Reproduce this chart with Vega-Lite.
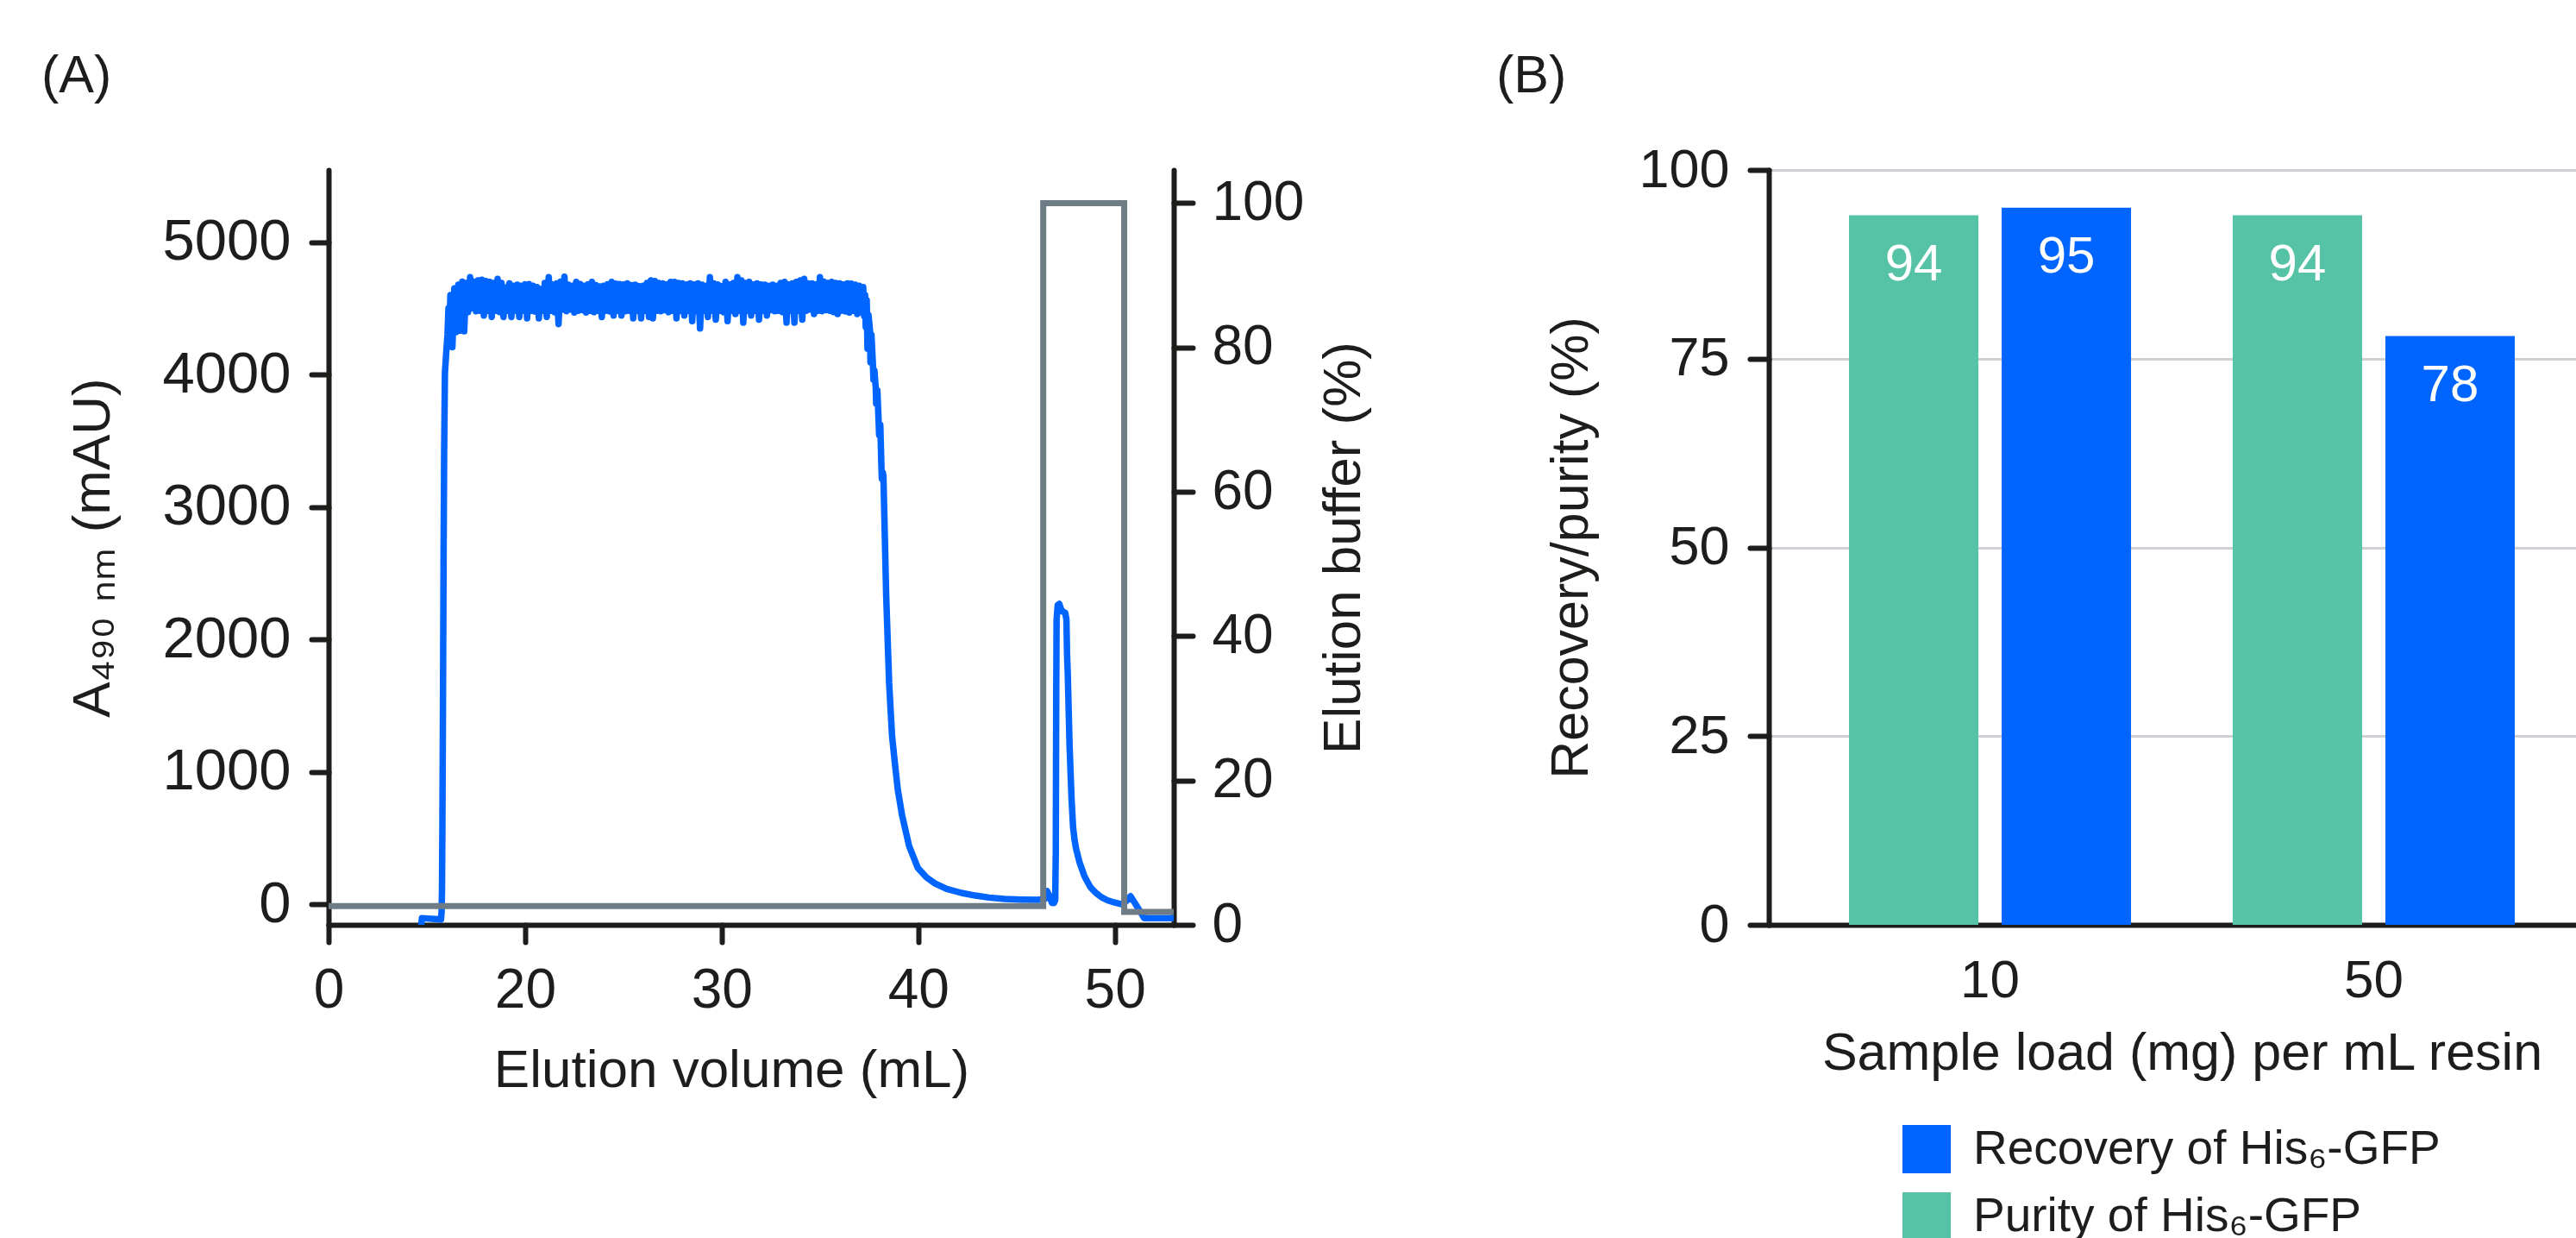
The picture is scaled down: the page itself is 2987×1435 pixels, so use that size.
{
  "$schema": "https://vega.github.io/schema/vega-lite/v6.json",
  "padding": {"left": 48, "top": 58, "right": 0, "bottom": 0},
  "background": "white",
  "config": {
    "font": "Liberation Sans",
    "view": {"stroke": null},
    "axis": {
      "labelFont": "Liberation Sans", "titleFont": "Liberation Sans",
      "labelColor": "#1d1d1b", "titleColor": "#1d1d1b",
      "domainColor": "#1d1d1b", "tickColor": "#1d1d1b",
      "domainWidth": 6, "tickWidth": 6, "domainCap": "round", "tickCap": "round",
      "titleFontWeight": "normal", "grid": false, "labelOverlap": false, "format": "d"
    },
    "title": {"font": "Liberation Sans", "fontWeight": "normal", "color": "#1d1d1b", "fontSize": 61}
  },
  "datasets": {
    "uv": [
      {"v":14.72,"a":-150},{"v":14.75,"a":-105},{"v":15.0,"a":-108},{"v":15.4,"a":-112},{"v":15.72,"a":-115},
      {"v":15.75,"a":-60},{"v":15.77,"a":100},{"v":15.79,"a":560},{"v":15.82,"a":1500},{"v":15.85,"a":2600},
      {"v":15.88,"a":3400},{"v":15.92,"a":4013},{"v":15.98,"a":4150},{"v":16.05,"a":4300},{"v":16.1,"a":4500},
      {"v":16.15,"a":4380},{"v":16.2,"a":4600},{"v":16.3,"a":4206},{"v":16.4,"a":4650},{"v":16.5,"a":4320},
      {"v":16.6,"a":4678},{"v":16.7,"a":4330},{"v":16.8,"a":4700},{"v":16.9,"a":4326},{"v":17.0,"a":4690},
      {"v":17.1,"a":4470},{"v":17.2,"a":4734},{"v":17.3,"a":4500},{"v":17.4,"a":4700},{"v":17.5,"a":4478},
      {"v":17.6,"a":4710},{"v":17.7,"a":4480},{"v":17.8,"a":4715},{"v":17.9,"a":4445},{"v":18.0,"a":4705},
      {"v":18.1,"a":4480},{"v":18.2,"a":4699},{"v":18.3,"a":4434},{"v":18.4,"a":4690},{"v":18.5,"a":4480},
      {"v":18.6,"a":4721},{"v":18.7,"a":4470},{"v":18.8,"a":4690},{"v":18.9,"a":4434},{"v":19.0,"a":4656},
      {"v":19.1,"a":4480},{"v":19.2,"a":4688},{"v":19.3,"a":4434},{"v":19.4,"a":4670},{"v":19.5,"a":4480},
      {"v":19.6,"a":4678},{"v":19.7,"a":4434},{"v":19.8,"a":4670},{"v":19.9,"a":4480},{"v":20.0,"a":4680},
      {"v":20.1,"a":4423},{"v":20.2,"a":4683},{"v":20.3,"a":4480},{"v":20.4,"a":4670},{"v":20.5,"a":4475},
      {"v":20.6,"a":4660},{"v":20.7,"a":4423},{"v":20.8,"a":4645},{"v":20.9,"a":4480},{"v":21.0,"a":4690},
      {"v":21.1,"a":4434},{"v":21.2,"a":4734},{"v":21.3,"a":4480},{"v":21.4,"a":4680},{"v":21.5,"a":4470},
      {"v":21.6,"a":4688},{"v":21.7,"a":4380},{"v":21.8,"a":4700},{"v":21.9,"a":4490},{"v":22.0,"a":4738},
      {"v":22.1,"a":4478},{"v":22.2,"a":4678},{"v":22.3,"a":4490},{"v":22.4,"a":4670},{"v":22.5,"a":4467},
      {"v":22.6,"a":4699},{"v":22.7,"a":4480},{"v":22.8,"a":4683},{"v":22.9,"a":4485},{"v":23.0,"a":4670},
      {"v":23.1,"a":4467},{"v":23.2,"a":4680},{"v":23.3,"a":4480},{"v":23.4,"a":4699},{"v":23.5,"a":4470},
      {"v":23.6,"a":4675},{"v":23.7,"a":4480},{"v":23.8,"a":4665},{"v":23.9,"a":4434},{"v":24.0,"a":4670},
      {"v":24.1,"a":4480},{"v":24.2,"a":4680},{"v":24.3,"a":4475},{"v":24.4,"a":4699},{"v":24.5,"a":4445},
      {"v":24.6,"a":4685},{"v":24.7,"a":4480},{"v":24.8,"a":4683},{"v":24.9,"a":4445},{"v":25.0,"a":4680},
      {"v":25.1,"a":4478},{"v":25.2,"a":4688},{"v":25.3,"a":4480},{"v":25.4,"a":4675},{"v":25.5,"a":4423},
      {"v":25.6,"a":4678},{"v":25.7,"a":4480},{"v":25.8,"a":4667},{"v":25.9,"a":4423},{"v":26.0,"a":4670},
      {"v":26.1,"a":4480},{"v":26.2,"a":4690},{"v":26.3,"a":4434},{"v":26.4,"a":4710},{"v":26.5,"a":4423},
      {"v":26.6,"a":4705},{"v":26.7,"a":4480},{"v":26.8,"a":4690},{"v":26.9,"a":4478},{"v":27.0,"a":4688},
      {"v":27.1,"a":4485},{"v":27.2,"a":4680},{"v":27.3,"a":4470},{"v":27.4,"a":4699},{"v":27.5,"a":4480},
      {"v":27.6,"a":4699},{"v":27.7,"a":4423},{"v":27.8,"a":4690},{"v":27.9,"a":4480},{"v":28.0,"a":4688},
      {"v":28.1,"a":4445},{"v":28.2,"a":4680},{"v":28.3,"a":4480},{"v":28.4,"a":4688},{"v":28.5,"a":4402},
      {"v":28.6,"a":4680},{"v":28.7,"a":4478},{"v":28.8,"a":4688},{"v":28.9,"a":4347},{"v":29.0,"a":4678},
      {"v":29.1,"a":4480},{"v":29.2,"a":4670},{"v":29.3,"a":4434},{"v":29.4,"a":4734},{"v":29.5,"a":4480},
      {"v":29.6,"a":4688},{"v":29.7,"a":4413},{"v":29.8,"a":4680},{"v":29.9,"a":4480},{"v":30.0,"a":4667},
      {"v":30.1,"a":4470},{"v":30.2,"a":4699},{"v":30.3,"a":4402},{"v":30.4,"a":4680},{"v":30.5,"a":4480},
      {"v":30.6,"a":4690},{"v":30.7,"a":4456},{"v":30.8,"a":4734},{"v":30.9,"a":4480},{"v":31.0,"a":4710},
      {"v":31.1,"a":4391},{"v":31.2,"a":4690},{"v":31.3,"a":4480},{"v":31.4,"a":4699},{"v":31.5,"a":4445},
      {"v":31.6,"a":4680},{"v":31.7,"a":4480},{"v":31.8,"a":4688},{"v":31.9,"a":4413},{"v":32.0,"a":4680},
      {"v":32.1,"a":4480},{"v":32.2,"a":4678},{"v":32.3,"a":4445},{"v":32.4,"a":4670},{"v":32.5,"a":4485},
      {"v":32.6,"a":4678},{"v":32.7,"a":4478},{"v":32.8,"a":4670},{"v":32.9,"a":4480},{"v":33.0,"a":4690},
      {"v":33.1,"a":4470},{"v":33.2,"a":4699},{"v":33.3,"a":4391},{"v":33.4,"a":4680},{"v":33.5,"a":4480},
      {"v":33.6,"a":4688},{"v":33.7,"a":4391},{"v":33.8,"a":4699},{"v":33.9,"a":4480},{"v":34.0,"a":4710},
      {"v":34.1,"a":4413},{"v":34.2,"a":4721},{"v":34.3,"a":4480},{"v":34.4,"a":4688},{"v":34.5,"a":4490},
      {"v":34.6,"a":4688},{"v":34.7,"a":4456},{"v":34.8,"a":4680},{"v":34.9,"a":4480},{"v":35.0,"a":4734},
      {"v":35.1,"a":4478},{"v":35.2,"a":4700},{"v":35.3,"a":4485},{"v":35.4,"a":4690},{"v":35.5,"a":4480},
      {"v":35.6,"a":4699},{"v":35.7,"a":4470},{"v":35.8,"a":4690},{"v":35.9,"a":4456},{"v":36.0,"a":4688},
      {"v":36.1,"a":4480},{"v":36.2,"a":4680},{"v":36.3,"a":4475},{"v":36.4,"a":4688},{"v":36.5,"a":4467},
      {"v":36.6,"a":4685},{"v":36.7,"a":4480},{"v":36.8,"a":4678},{"v":36.9,"a":4456},{"v":37.0,"a":4670},
      {"v":37.1,"a":4470},{"v":37.2,"a":4660},{"v":37.25,"a":4440},{"v":37.3,"a":4600},{"v":37.33,"a":4358},
      {"v":37.38,"a":4560},{"v":37.42,"a":4195},{"v":37.47,"a":4450},{"v":37.55,"a":4326},{"v":37.57,"a":4091},
      {"v":37.62,"a":4300},{"v":37.7,"a":4059},{"v":37.72,"a":3961},{"v":37.77,"a":4030},{"v":37.84,"a":3896},
      {"v":37.86,"a":3779},{"v":37.92,"a":3880},{"v":37.99,"a":3629},{"v":38.01,"a":3544},{"v":38.07,"a":3620},
      {"v":38.13,"a":3296},{"v":38.15,"a":3212},{"v":38.2,"a":3260},{"v":38.23,"a":3230},{"v":38.37,"a":2332},
      {"v":38.52,"a":1668},{"v":38.67,"a":1270},{"v":38.81,"a":1068},{"v":38.96,"a":866},{"v":39.18,"a":671},
      {"v":39.54,"a":437},{"v":39.98,"a":274},{"v":40.42,"a":202},{"v":40.86,"a":156},{"v":41.45,"a":115},
      {"v":42.2,"a":85},{"v":42.9,"a":65},{"v":43.6,"a":50},{"v":44.4,"a":39},{"v":45.2,"a":35},
      {"v":46.1,"a":33},{"v":46.45,"a":40},{"v":46.55,"a":100},{"v":46.65,"a":70},{"v":46.8,"a":10},
      {"v":46.9,"a":8},{"v":46.97,"a":30},{"v":47.0,"a":400},{"v":47.02,"a":1500},{"v":47.04,"a":2150},
      {"v":47.1,"a":2260},{"v":47.18,"a":2267},{"v":47.26,"a":2230},{"v":47.35,"a":2210},{"v":47.48,"a":2200},
      {"v":47.54,"a":2150},{"v":47.57,"a":1900},{"v":47.61,"a":1733},{"v":47.7,"a":1200},{"v":47.8,"a":800},
      {"v":47.88,"a":580},{"v":47.95,"a":490},{"v":48.03,"a":420},{"v":48.2,"a":320},{"v":48.46,"a":210},
      {"v":48.75,"a":130},{"v":49.04,"a":85},{"v":49.35,"a":50},{"v":49.65,"a":28},{"v":50.0,"a":12},
      {"v":50.35,"a":0},{"v":50.6,"a":25},{"v":50.8,"a":60},{"v":51.1,"a":-10},{"v":51.5,"a":-106},
      {"v":53.0,"a":-106}
    ],
    "buffer": [
      {"v":10,"p":2.6},{"v":46.36,"p":2.6},{"v":46.36,"p":100},{"v":50.48,"p":100},{"v":50.48,"p":1.8},{"v":53,"p":1.8}
    ],
    "bars": [
      {"load":"10","series":"Purity of His₆-GFP","value":94},
      {"load":"10","series":"Recovery of His₆-GFP","value":95},
      {"load":"50","series":"Purity of His₆-GFP","value":94},
      {"load":"50","series":"Recovery of His₆-GFP","value":78}
    ]
  },
  "hconcat": [
    {
      "width": 980, "height": 875,
      "title": {"text": "(A)", "anchor": "start", "frame": "group", "dx": -333, "offset": 29, "baseline": "alphabetic"},
      "layer": [
        {
          "data": {"name": "uv"},
          "mark": {"type": "line", "color": "#0064ff", "strokeWidth": 7.5, "strokeJoin": "round", "strokeCap": "round", "clip": true},
          "encoding": {
            "x": {"field": "v", "type": "quantitative",
              "scale": {"domain": [10, 53], "nice": false, "zero": false},
              "axis": {"title": "Elution volume (mL)", "values": [10, 20, 30, 40, 50],
                "labelExpr": "datum.value == 10 ? '0' : datum.label", "labelFlush": false,
                "labelFontSize": 64, "tickSize": 20, "labelPadding": 24,
                "titleFontSize": 62, "titlePadding": 30, "titleX": 467}},
            "y": {"field": "a", "type": "quantitative",
              "scale": {"domain": [-156, 5544], "nice": false, "zero": false},
              "axis": {"title": "A₄₉₀ ₙₘ (mAU)", "orient": "left", "values": [0, 1000, 2000, 3000, 4000, 5000],
                "labelFontSize": 67, "tickSize": 20, "labelPadding": 24,
                "titleFontSize": 62, "titlePadding": 48}}
          }
        },
        {
          "data": {"name": "buffer"},
          "mark": {"type": "line", "color": "#6d7c85", "strokeWidth": 7, "strokeJoin": "miter", "clip": true},
          "encoding": {
            "x": {"field": "v", "type": "quantitative"},
            "y": {"field": "p", "type": "quantitative",
              "scale": {"domain": [0, 104.6], "nice": false, "zero": false},
              "axis": {"title": "Elution buffer (%)", "orient": "right", "values": [0, 20, 40, 60, 80, 100],
                "labelFontSize": 64, "tickSize": 22, "labelPadding": 22,
                "titleFontSize": 62, "titlePadding": 16, "titleAngle": 270, "titleBaseline": "top"}}
          }
        }
      ],
      "resolve": {"scale": {"y": "independent"}}
    },
    {
      "width": 958, "height": 875,
      "title": {"text": "(B)", "anchor": "start", "frame": "group", "dx": -316, "offset": -2, "baseline": "alphabetic"},
      "data": {"name": "bars"},
      "encoding": {
        "x": {"field": "load", "type": "nominal", "sort": ["10", "50"],
          "scale": {"paddingInner": 0.265, "paddingOuter": 0.209},
          "axis": {"title": "Sample load (mg) per mL resin", "labelAngle": 0, "ticks": false,
            "labelFontSize": 62, "labelPadding": 34, "titleFontSize": 61, "titlePadding": 24}},
        "xOffset": {"field": "series", "type": "nominal",
          "sort": ["Purity of His₆-GFP", "Recovery of His₆-GFP"],
          "scale": {"paddingInner": 0.1525, "paddingOuter": 0}},
        "y": {"field": "value", "type": "quantitative",
          "scale": {"domain": [0, 100], "nice": false},
          "axis": {"title": "Recovery/purity (%)", "values": [0, 25, 50, 75, 100],
            "grid": true, "gridColor": "#cdd1d5", "gridWidth": 3,
            "labelFontSize": 63, "tickSize": 22, "labelPadding": 24,
            "titleFontSize": 61, "titlePadding": 46}}
      },
      "layer": [
        {
          "mark": {"type": "bar"},
          "encoding": {
            "color": {"field": "series", "type": "nominal",
              "scale": {"domain": ["Recovery of His₆-GFP", "Purity of His₆-GFP"], "range": ["#0064ff", "#57c3a6"]},
              "legend": {"orient": "none", "legendX": 155, "legendY": 1107, "title": null,
                "symbolType": "square", "symbolSize": 3136, "symbolStrokeWidth": 0, "symbolOpacity": 1,
                "labelFontSize": 55, "labelFont": "Liberation Sans", "labelColor": "#1d1d1b",
                "labelOffset": 26, "rowPadding": 22, "padding": 0, "labelLimit": 0}}
          }
        },
        {
          "mark": {"type": "text", "color": "white", "fontSize": 60, "baseline": "alphabetic", "dy": 75, "font": "Liberation Sans"},
          "encoding": {"text": {"field": "value", "type": "quantitative"}}
        }
      ]
    }
  ],
  "spacing": 146,
  "resolve": {"legend": {"color": "independent"}}
}
